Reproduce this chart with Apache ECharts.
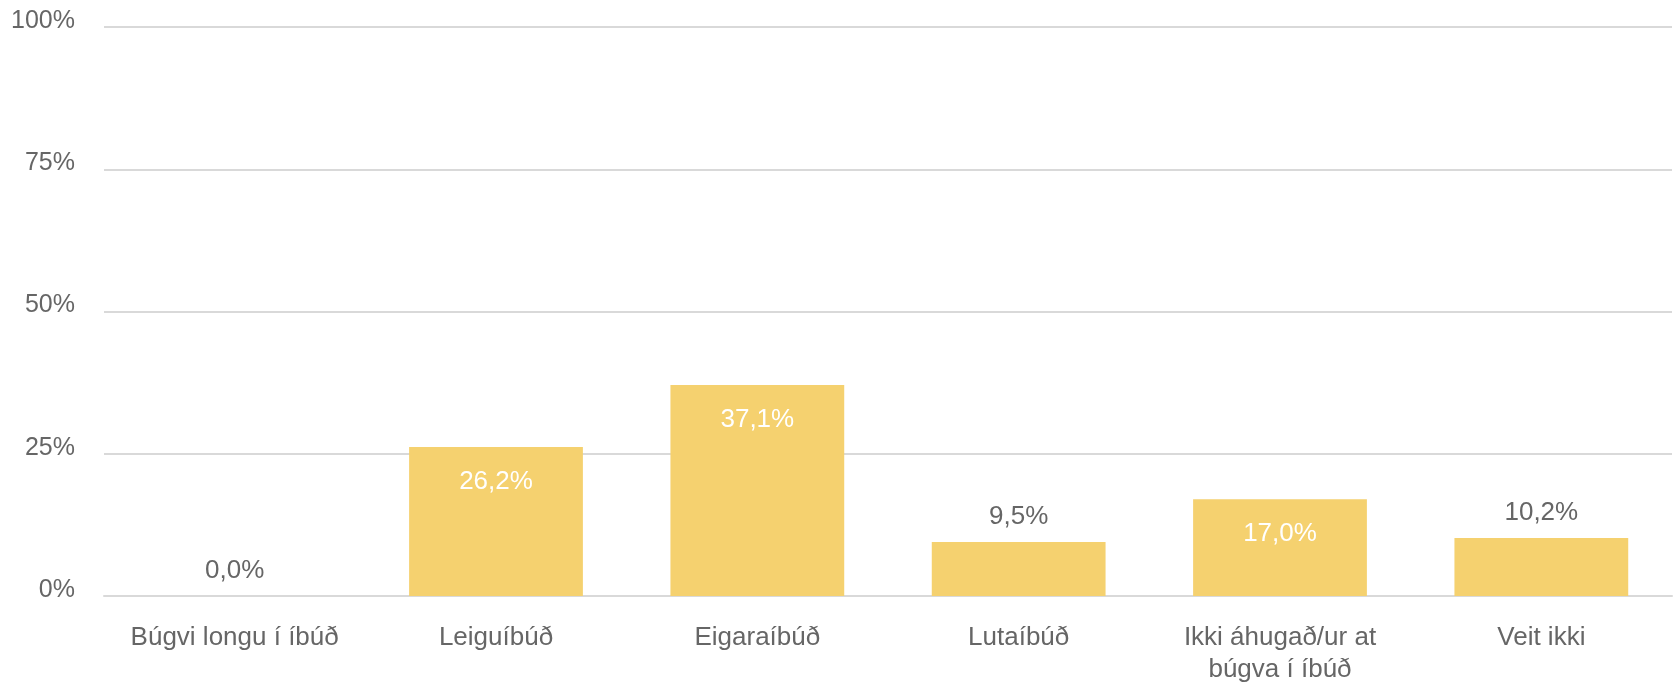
<!DOCTYPE html>
<html>
<head>
    <meta charset="UTF-8">
    <title>Búgvi</title>
    <script src="https://cdn.jsdelivr.net/npm/echarts@6/dist/echarts.min.js"></script>
    <style>
        html, body { margin: 0; padding: 0; background: #fff; }
    </style>
</head>
<body>
    <div id="bar" style="width:1676px; height:686px;"></div>

    <script>
        var categories = ['Búgvi longu í íbúð', 'Leiguíbúð', 'Eigaraíbúð', 'Lutaíbúð', 'Ikki áhugað/ur at\nbúgva í íbúð', 'Veit ikki'];
        var values = [0.0, 26.2, 37.1, 9.5, 17.0, 10.2];
        var yTicks = [0, 25, 50, 75, 100];

        var font = '"Liberation Sans", Arial, sans-serif';

        function pct(v) {
            return v.toFixed(1).replace('.', ',') + '%';
        }

        // tall bars get the label inside, short ones above
        var barData = values.map(function (v) {
            var inside = v > 12;
            return {
                value: v,
                label: {
                    position: inside ? 'insideTop' : 'top',
                    distance: inside ? 22 : 12,
                    color: inside ? '#ffffff' : '#666666'
                }
            };
        });

        var chart = echarts.init(document.getElementById('bar'), null, {renderer: 'canvas'});

        chart.setOption({
            animation: false,
            grid: {left: 104, right: 4, top: 27, bottom: 84},
            xAxis: {
                type: 'category',
                data: categories,
                axisTick: {show: false},
                axisLine: {lineStyle: {color: '#d9d9d9', width: 2}},
                axisLabel: {
                    color: '#666666',
                    fontFamily: font,
                    fontSize: 26,
                    margin: 26,
                    lineHeight: 32,
                    interval: 0
                }
            },
            yAxis: {
                type: 'value',
                min: 0,
                max: 100,
                interval: 25,
                axisLine: {show: false},
                axisTick: {show: false},
                splitLine: {lineStyle: {color: '#d9d9d9', width: 2}},
                axisLabel: {
                    color: '#666666',
                    fontFamily: font,
                    fontSize: 25,
                    margin: 29,
                    verticalAlign: 'bottom',
                    lineHeight: 12,
                    formatter: function (v) {
                        return yTicks.indexOf(v) >= 0 ? v + '%' : '';
                    }
                }
            },
            series: [{
                type: 'bar',
                data: barData,
                barCategoryGap: '33.5%',
                itemStyle: {color: '#f5d16f'},
                label: {
                    show: true,
                    fontFamily: font,
                    fontSize: 26,
                    formatter: function (p) { return pct(p.value); }
                }
            }]
        });
    </script>
</body>
</html>
